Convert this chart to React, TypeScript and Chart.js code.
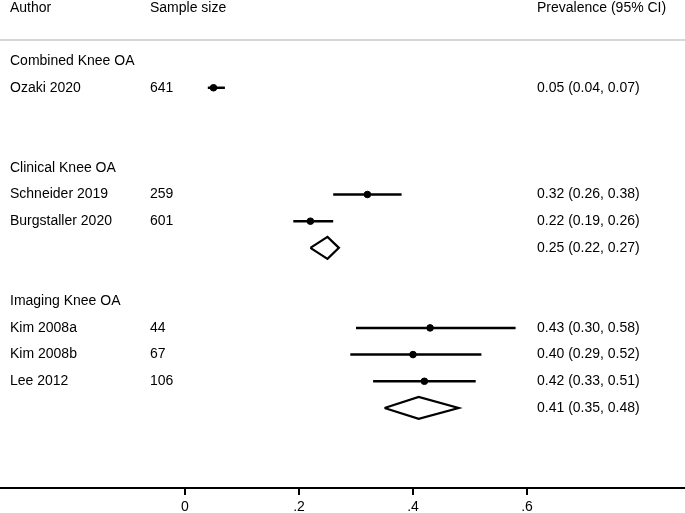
import React, { useEffect, useRef } from "react";
import { Chart, registerables } from "chart.js";

Chart.register(...registerables);

// ---- data ----
const groupLabels = ["Combined Knee OA", "Clinical Knee OA", "Imaging Knee OA"];
const groupRows = [0, 4, 9];

const authors = ["Ozaki 2020", "Schneider 2019", "Burgstaller 2020", "Kim 2008a", "Kim 2008b", "Lee 2012"];
const sampleSizes = [641, 259, 601, 44, 67, 106];
const studyRows = [1, 5, 6, 10, 11, 12];
const estimates = [0.05, 0.32, 0.22, 0.43, 0.4, 0.42];
const lowerCI = [0.04, 0.26, 0.19, 0.3, 0.29, 0.33];
const upperCI = [0.07, 0.38, 0.26, 0.58, 0.52, 0.51];

const pooledRows = [7, 13];
const pooledEst = [0.25, 0.41];
const pooledLower = [0.22, 0.35];
const pooledUpper = [0.27, 0.48];

const xTicks = [0, 0.2, 0.4, 0.6];
const headers = ["Author", "Sample size", "Prevalence (95% CI)"];

const fmt = (v: number) => v.toFixed(2);

// layout
const X_MIN = -185 / 570;
const X_MAX = (685 - 185) / 570;
const Y_MIN = -2.29;
const Y_MAX = 16;
const HEADER_ROW = -2;
const HEADER_LINE_ROW = -0.79;
const COL_AUTHOR = 10;
const COL_N = 150;
const COL_PREV = 537;
const FONT = '14px "Liberation Sans", Arial, sans-serif';

export default function App() {
  const ref = useRef<HTMLCanvasElement | null>(null);

  useEffect(() => {
    if (!ref.current) return;
    const datasets: any[] = [];

    // header rule
    datasets.push({
      type: "line",
      data: [
        { x: X_MIN, y: HEADER_LINE_ROW },
        { x: X_MAX, y: HEADER_LINE_ROW },
      ],
      borderColor: "#c8c8c8",
      borderWidth: 1.5,
      pointRadius: 0,
    });

    // CI lines
    studyRows.forEach((r, i) => {
      datasets.push({
        type: "line",
        data: [
          { x: lowerCI[i], y: r },
          { x: upperCI[i], y: r },
        ],
        borderColor: "#000",
        borderWidth: 2.5,
        pointRadius: 0,
      });
    });

    // point estimates
    datasets.push({
      type: "scatter",
      data: studyRows.map((r, i) => ({ x: estimates[i], y: r })),
      backgroundColor: "#000",
      borderColor: "#000",
      pointRadius: 3.3,
      pointStyle: "circle",
    });

    // diamonds
    pooledRows.forEach((r, i) => {
      const h = 0.41;
      datasets.push({
        type: "line",
        data: [
          { x: pooledLower[i], y: r },
          { x: pooledEst[i], y: r - h },
          { x: pooledUpper[i], y: r },
          { x: pooledEst[i], y: r + h },
          { x: pooledLower[i], y: r },
        ],
        borderColor: "#000",
        borderWidth: 2.2,
        pointRadius: 0,
        fill: false,
        tension: 0,
        borderJoinStyle: "miter",
      });
    });

    const textPlugin = {
      id: "forestText",
      afterDraw(chart: any) {
        const ctx = chart.ctx;
        const ys = chart.scales.y;
        ctx.save();
        ctx.font = FONT;
        ctx.fillStyle = "#000";
        ctx.textBaseline = "middle";
        ctx.textAlign = "left";
        const hy = ys.getPixelForValue(HEADER_ROW);
        ctx.fillText(headers[0], COL_AUTHOR, hy);
        ctx.fillText(headers[1], COL_N, hy);
        ctx.fillText(headers[2], COL_PREV, hy);
        groupRows.forEach((r, i) => {
          ctx.fillText(groupLabels[i], COL_AUTHOR, ys.getPixelForValue(r));
        });
        studyRows.forEach((r, i) => {
          const y = ys.getPixelForValue(r);
          ctx.fillText(authors[i], COL_AUTHOR, y);
          ctx.fillText(String(sampleSizes[i]), COL_N, y);
          ctx.fillText(`${fmt(estimates[i])} (${fmt(lowerCI[i])}, ${fmt(upperCI[i])})`, COL_PREV, y);
        });
        pooledRows.forEach((r, i) => {
          const y = ys.getPixelForValue(r);
          ctx.fillText(`${fmt(pooledEst[i])} (${fmt(pooledLower[i])}, ${fmt(pooledUpper[i])})`, COL_PREV, y);
        });
        ctx.restore();
      },
    };

    const chart = new Chart(ref.current, {
      type: "scatter",
      data: { datasets },
      plugins: [textPlugin],
      options: {
        animation: false,
        responsive: false,
        maintainAspectRatio: false,
        layout: { padding: 0, autoPadding: false },
        plugins: { legend: { display: false }, tooltip: { enabled: false } },
        scales: {
          x: {
            type: "linear",
            position: "bottom",
            min: X_MIN,
            max: X_MAX,
            afterBuildTicks: (axis: any) => {
              axis.ticks = xTicks.map((v) => ({ value: v }));
            },
            afterFit: (axis: any) => {
              axis.height = 25;
            },
            ticks: {
              color: "#000",
              font: { family: '"Liberation Sans", Arial, sans-serif', size: 14 },
              padding: 4,
              maxRotation: 0,
              autoSkip: false,
              callback: (v: any) => (Number(v) === 0 ? "0" : String(Number(v)).replace("0.", ".")),
            },
            grid: {
              drawOnChartArea: false,
              drawTicks: true,
              tickLength: 7,
              color: "#000",
              lineWidth: 2,
            },
            border: { display: true, color: "#000", width: 2 },
          },
          y: {
            type: "linear",
            display: false,
            reverse: true,
            min: Y_MIN,
            max: Y_MAX,
          },
        },
      },
    });
    return () => chart.destroy();
  }, []);

  return (
    <div style={{ position: "fixed", left: 0, top: 0, width: 685, height: 513, background: "#fff" }}>
      <canvas ref={ref} width={685} height={513} style={{ display: "block", width: 685, height: 513 }} />
    </div>
  );
}
